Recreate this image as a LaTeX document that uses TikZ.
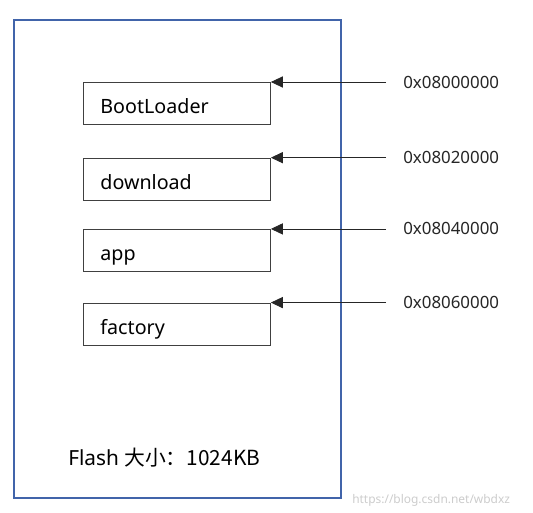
\documentclass[tikz,border=0pt]{standalone}
\usepackage{fontspec}
\setmainfont{Noto Sans}
\newfontfamily\cjk{Noto Sans CJK SC}
\usetikzlibrary{positioning,arrows.meta}
\definecolor{frameblue}{RGB}{65,100,170}

\begin{document}
\begin{tikzpicture}[
		x=0.025cm, y=-0.025cm,
		>={Triangle[length=0.3cm,width=0.28cm]},
		every node/.style={inner sep=0pt},
		flashframe/.style={draw=frameblue, line width=1.1pt, anchor=north west,
			minimum width=8.175cm, minimum height=11.95cm},
		memblock/.style={draw=black!75, line width=0.6pt, anchor=north west,
			minimum width=4.675cm, text width=3.825cm, inner xsep=0.425cm, align=left,
			text height=0.78cm, text depth=0.27cm, font=\fontsize{14}{16}\selectfont},
		addr/.style={anchor=west, inner xsep=0.425cm, text=black!85,
			font=\fontsize{12}{14}\selectfont},
		pointer/.style={->, line width=0.6pt, black!85}
	]
	\useasboundingbox (0,0) rectangle (533,513);
	
	\node(flash)[flashframe] at (13,19) {};
	
	\node(boot)[memblock] at (83,82) {BootLoader};
	\node(download)[memblock, below=0.82cm of boot] {download};
	\node(app)[memblock, below=0.71cm of download] {app};
	\node(factory)[memblock, below=0.77cm of app] {factory};
	
	\node(a0)[addr] at (386,82) {0x08000000};
	\node(a1)[addr] at (a0.west |- download.north) {0x08020000};
	\node(a2)[addr] at (a0.west |- app.north) {0x08040000};
	\node(a3)[addr] at (a0.west |- factory.north) {0x08060000};
	
	\draw[pointer] (a0.west) -- (boot.north east);
	\draw[pointer] (a1.west) -- (download.north east);
	\draw[pointer] (a2.west) -- (app.north east);
	\draw[pointer] (a3.west) -- (factory.north east);
	
	\node(size)[anchor=base west, font=\fontsize{14.8}{17}\selectfont] at (68,465) {Flash \cjk{大小：}1024KB};
	\node(mark)[anchor=base west, text=black!20, font=\fontsize{8.5}{10}\selectfont] at (352,503) {https://blog.csdn.net/wbdxz};
\end{tikzpicture}
\end{document}
